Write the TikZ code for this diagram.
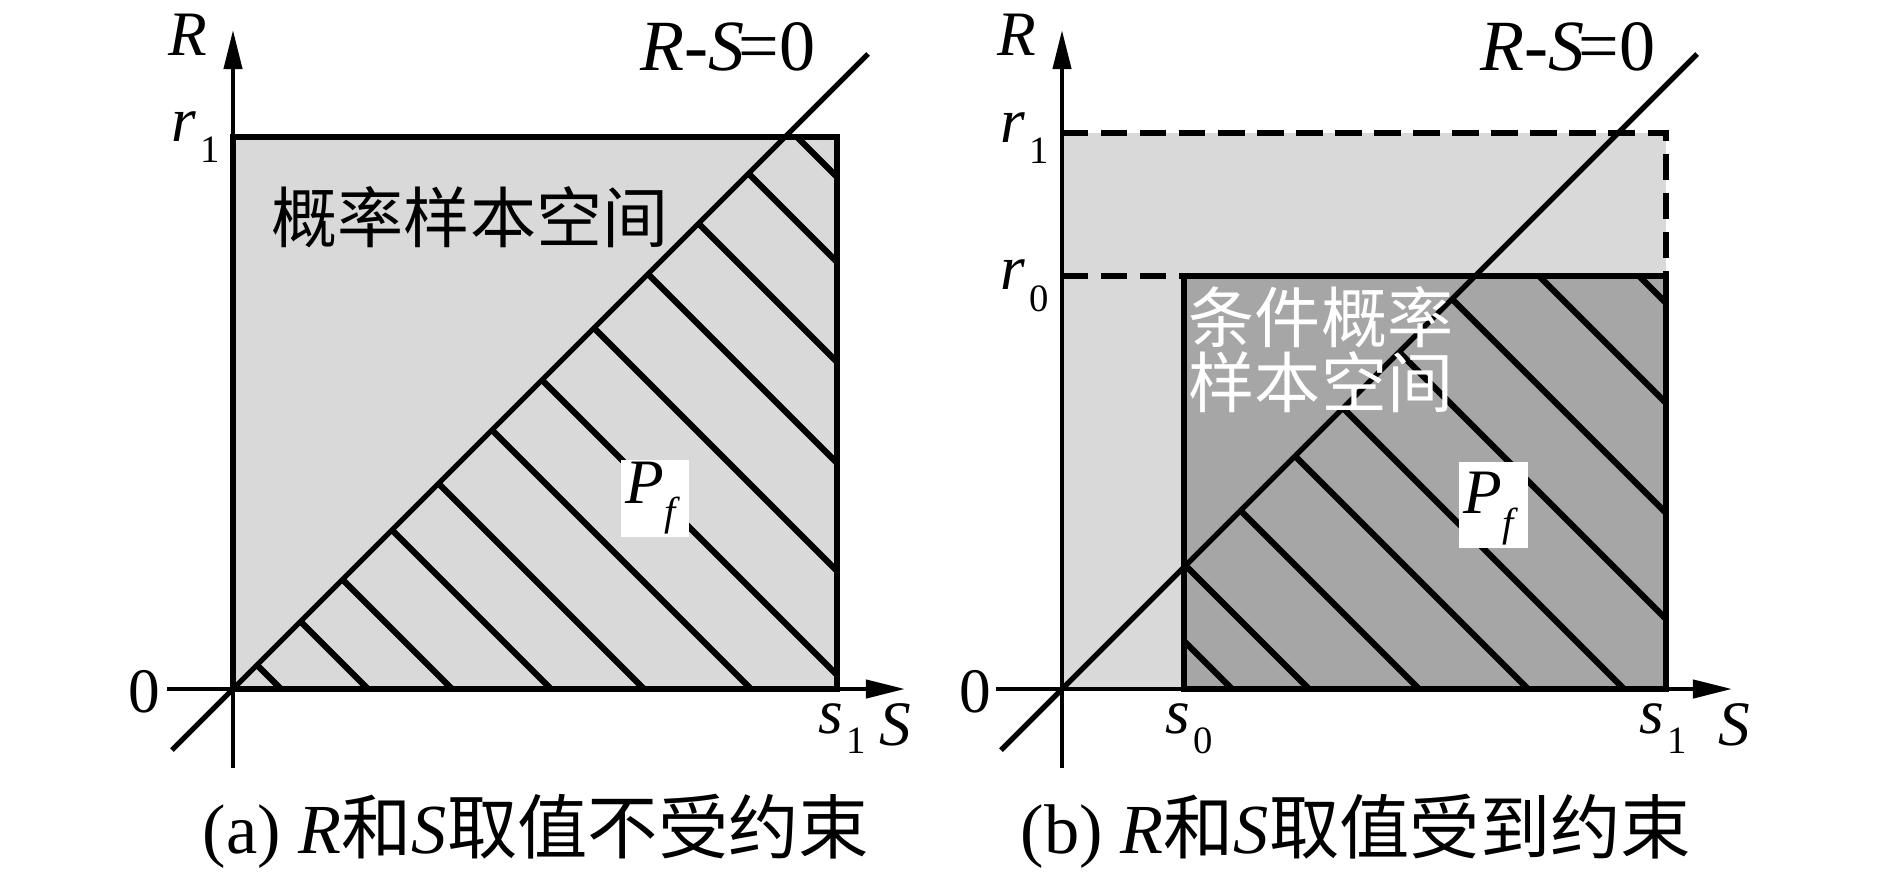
\documentclass[tikz,border=0pt]{standalone}
\usepackage{fontspec}
\setmainfont{Liberation Serif}
\newfontfamily\cjk{Noto Sans CJK SC}
\usetikzlibrary{arrows.meta}
\definecolor{lightg}{HTML}{D9D9D9}
\definecolor{darkg}{HTML}{A6A6A6}
\tikzset{
  border/.style={line width=1.7pt},
  hatchline/.style={line width=1.75pt},
  axisline/.style={line width=1.2pt},
  diagline/.style={line width=1.5pt},
  dashline/.style={line width=1.7pt, dash pattern=on 7.5pt off 3.6pt},
  lbl/.style={inner sep=0pt, font=\fontsize{18}{18}\selectfont},
  eqlbl/.style={inner sep=0pt, font=\fontsize{20.5}{20.5}\selectfont},
  axarrow/.style={-{Triangle[length=0.39cm,width=0.18cm]}},
  cjktext/.style={inner sep=0pt, font=\cjk\fontsize{18.8}{16.8}\selectfont},
  caption/.style={inner sep=0pt, font=\fontsize{20}{20}\selectfont},
}
\newcommand{\subn}[2]{\raisebox{-#1}{\fontsize{11}{11}\selectfont #2}}
\begin{document}
\begin{tikzpicture}[x=0.01cm, y=-0.01cm]
\useasboundingbox (0,0) rectangle (1890,872);

% ---------------- panel (a) ----------------
\fill[lightg] (233,137) rectangle (837,689);
\begin{scope}
  \clip (233,689) -- (837,689) -- (837,137) -- (785,137) -- cycle;
  \foreach \c in {48,135,219,318,411,518,618,722,830,931,1031,1116}
    \draw[hatchline] ({233+\c-700},{689-700}) -- ({233+\c+150},{689+150});
\end{scope}
\fill[white] (621,460) rectangle (689,537);
\node[lbl, anchor=base west] (Pa) at (625,503) {\textit{P}\raisebox{-6.3pt}{\fontsize{11.5}{11.5}\selectfont\textit{f}}};
\node[cjktext] (txta) at (470,217) {概率样本空间};
\draw[border] (233,137) rectangle (837,689);
\draw[axisline, axarrow] (167,689) -- (905,689);
\draw[axisline, axarrow] (233,768) -- (233,30);
\draw[diagline] (172,750) -- (868,54);

\node[lbl, anchor=base west] (Ra) at (168,55) {\textit{R}};
\node[eqlbl, anchor=base west] (RSa) at (640,70) {\textit{R}-\textit{S}\kern-1.8pt=0};
\node[lbl, anchor=base west] (r1a) at (171,141) {\textit{r}\kern1pt\subn{6pt}{1}};
\node[lbl] (za) at (144,692) {0};
\node[lbl, anchor=base west] (s1a) at (818,733) {\textit{s}\kern1pt\subn{5.7pt}{1}};
\node[lbl, anchor=base west] (Sa) at (879,745) {\textit{S}};
\node[caption] (capa) at (536,831) {(a) \textit{R}{\cjk 和}\textit{S}{\cjk 取值不受约束}};

% ---------------- panel (b) ----------------
\fill[lightg] (1062,133) rectangle (1666,689);
\fill[darkg] (1184,276) rectangle (1666,689);
\begin{scope}
  \clip (1184,689) -- (1666,689) -- (1666,276) -- (1475,276) -- (1184,567) -- cycle;
  \foreach \c in {170,247,357,466,562,674,780,890,990}
    \draw[hatchline] ({1062+\c-700},{689-700}) -- ({1062+\c+150},{689+150});
\end{scope}
\draw[dashline] (1062,133) -- (1666,133) -- (1666,276);
\draw[dashline] (1062,276) -- (1184,276);
\draw[border] (1184,276) rectangle (1666,689);
\draw[axisline, axarrow] (996,689) -- (1732,689);
\draw[axisline, axarrow] (1062,768) -- (1062,30);
\draw[diagline] (1001,750) -- (1697,54);
\fill[white] (1459,462) rectangle (1528,548);
\node[lbl, anchor=base west] (Pb) at (1463,513) {\textit{P}\raisebox{-6.8pt}{\fontsize{11.5}{11.5}\selectfont\textit{f}}};
\node[cjktext, text=white, align=left] (txtb) at (1321,350) {条件概率\\样本空间};

\node[lbl, anchor=base west] (Rb) at (997,55) {\textit{R}};
\node[eqlbl, anchor=base west] (RSb) at (1480,70) {\textit{R}-\textit{S}\kern-1.8pt=0};
\node[lbl, anchor=base west] (r1b) at (1000,142) {\textit{r}\kern1pt\subn{6pt}{1}};
\node[lbl, anchor=base west] (r0b) at (1000,289) {\textit{r}\kern1pt\subn{6.3pt}{0}};
\node[lbl] (zb) at (975,692) {0};
\node[lbl, anchor=base west] (s0b) at (1165,733) {\textit{s}\kern1pt\subn{5.7pt}{0}};
\node[lbl, anchor=base west] (s1b) at (1639,733) {\textit{s}\kern1pt\subn{5.7pt}{1}};
\node[lbl, anchor=base west] (Sb) at (1718,745) {\textit{S}};
\node[caption] (capb) at (1356,831) {(b) \textit{R}{\cjk 和}\textit{S}{\cjk 取值受到约束}};
\end{tikzpicture}
\end{document}
